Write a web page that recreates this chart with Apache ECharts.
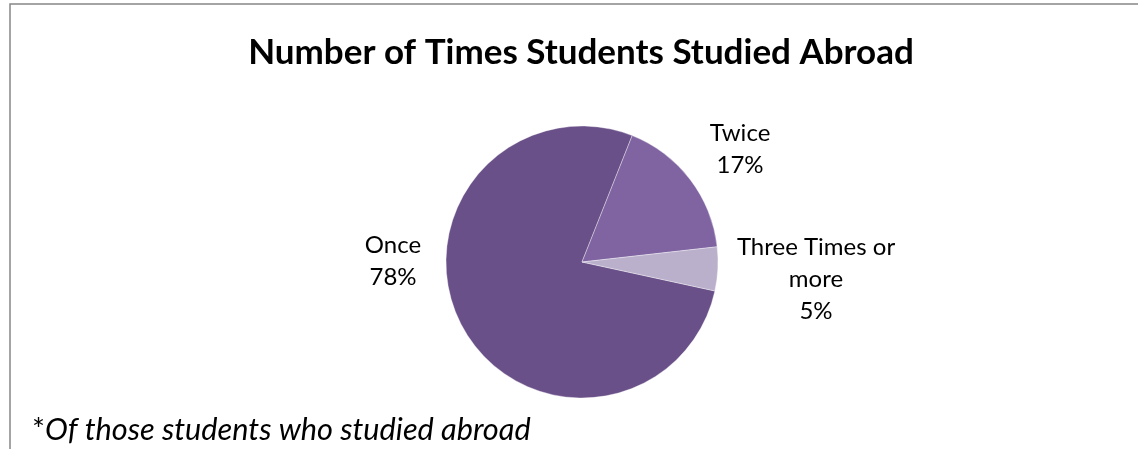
<!DOCTYPE html>
<html>
<head>
<meta charset="utf-8">
<script src="https://cdn.jsdelivr.net/npm/echarts@6/dist/echarts.min.js"></script>
<style>
html,body{margin:0;padding:0;background:#fff;}
#chart{width:1138px;height:449px;}
</style>
</head>
<body>
<div id="chart"></div>
<script>
const categories = ['Once', 'Twice', 'Three Times or more'];
const labelNames = ['Once', 'Twice', 'Three Times or\nmore'];
const values = [77.6, 17.2, 5.2];
const colors = ['#6A5088', '#8064A2', '#BAB0CC'];
const titleText = 'Number of Times Students Studied Abroad';
const footnoteStar = '*';
const footnoteText = 'Of those students who studied abroad';

const labelPos = [[393, 261], [740, 149], [816, 279]];
const FONT = 'Lato, "Open Sans", sans-serif';

const chart = echarts.init(document.getElementById('chart'), null, {renderer: 'canvas'});
chart.setOption({
  animation: false,
  backgroundColor: '#ffffff',
  title: {
    text: titleText,
    left: 576, top: 48, textAlign: 'center', textVerticalAlign: 'middle',
    textStyle: {fontFamily: FONT, fontWeight: 'bold', fontSize: 35, color: '#000'}
  },
  graphic: [
    {type: 'rect', shape: {x: 10, y: 4, width: 1300, height: 600},
     style: {fill: 'none', stroke: '#878787', lineWidth: 1.5}, silent: true},
    {type: 'text', left: 32, top: 415,
     style: {text: '{a|' + footnoteStar + '}{b|' + footnoteText + '}',
       rich: {a: {fontFamily: FONT, fontSize: 30.7, fill: '#000'},
              b: {fontFamily: FONT, fontSize: 30.7, fontStyle: 'italic', fill: '#000'}}}}
  ],
  series: [{
    type: 'pie',
    center: [582, 262],
    radius: [0, 136],
    startAngle: -12.3,
    clockwise: true,
    percentPrecision: 0,
    itemStyle: {borderColor: 'rgba(255,255,255,0.6)', borderWidth: 0.6},
    label: {
      show: true, position: 'outside',
      fontFamily: FONT, fontSize: 24, color: '#000', lineHeight: 32, align: 'center',
      formatter: p => labelNames[p.dataIndex] + '\n' + p.percent + '%'
    },
    labelLine: {show: false},
    labelLayout: p => ({x: labelPos[p.dataIndex][0], y: labelPos[p.dataIndex][1], align: 'center', verticalAlign: 'middle'}),
    data: categories.map((c, i) => ({name: c, value: values[i], itemStyle: {color: colors[i]}}))
  }]
});
</script>
</body>
</html>
